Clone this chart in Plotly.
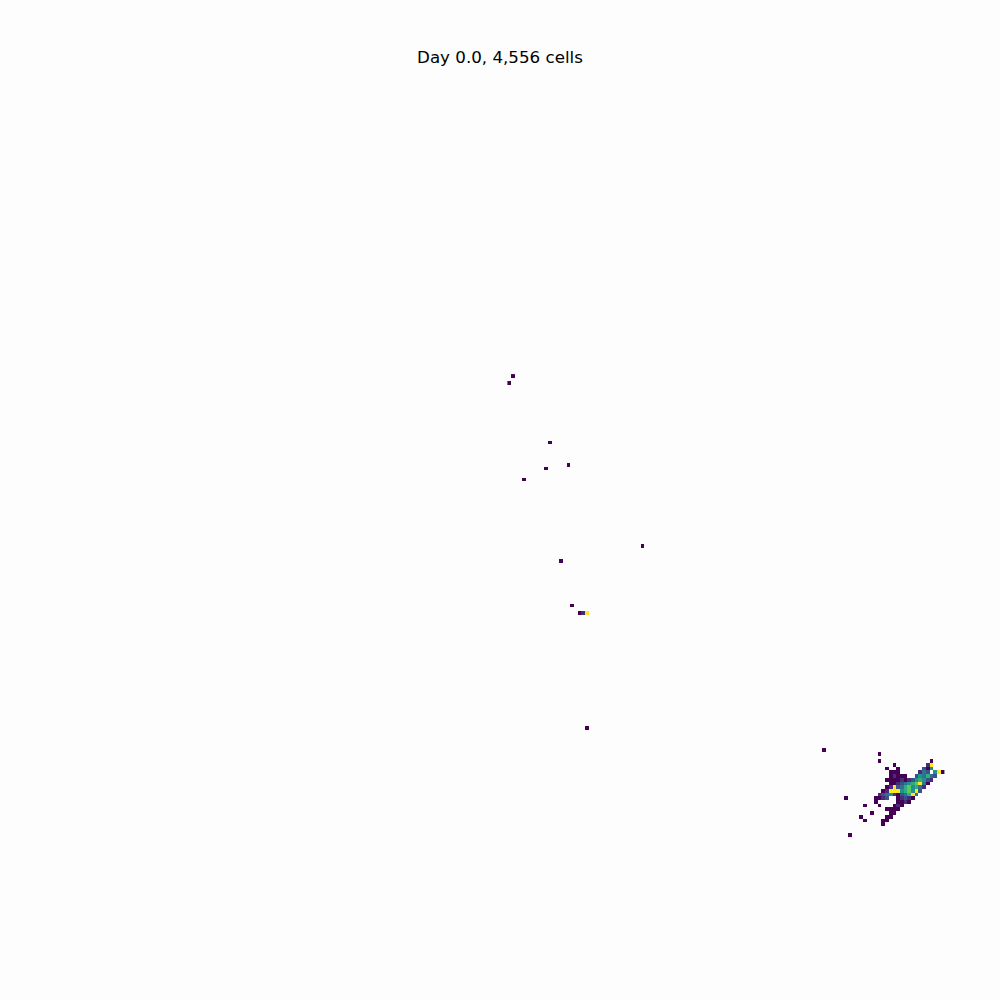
import plotly.graph_objects as go

# 2D histogram of cell positions (bin column, bin row, cell count per bin)
N_BINS = 270
cell_col = [138, 137, 148, 153, 147, 141, 173, 151, 154, 156, 157, 158, 158, 222,
            237, 237, 251, 241, 250, 251,
            239, 242, 249, 250, 251,
            240, 241, 242, 248, 249, 250, 252, 253, 254,
            240, 241, 242, 243, 244, 247, 248, 249, 250, 251, 252,
            239, 240, 241, 242, 243, 244, 245, 246, 247, 248, 249, 250, 251,
            240, 241, 242, 243, 244, 245, 246, 247, 248, 249, 250,
            239, 240, 241, 242, 243, 244, 245, 246, 247, 248, 249,
            238, 239, 240, 241, 242, 243, 244, 245, 246, 247, 248,
            237, 238, 239, 240, 241, 242, 243, 244, 245, 246, 247,
            236, 237, 238, 239, 242, 243, 244, 245, 246,
            236, 242, 243, 244, 245,
            233, 237, 241, 242, 243,
            239, 240, 241, 242,
            235, 240, 241,
            232, 239, 240,
            233, 238, 239,
            238,
            228, 229]
cell_row = [101, 103, 119, 125, 126, 129, 147, 151, 163, 165, 165, 165, 196, 202,
            203, 205, 205, 206, 206, 206,
            207, 207, 207, 207, 207,
            208, 208, 208, 208, 208, 208, 208, 208, 208,
            209, 209, 209, 209, 209, 209, 209, 209, 209, 209, 209,
            210, 210, 210, 210, 210, 210, 210, 210, 210, 210, 210, 210, 210,
            211, 211, 211, 211, 211, 211, 211, 211, 211, 211, 211,
            212, 212, 212, 212, 212, 212, 212, 212, 212, 212, 212,
            213, 213, 213, 213, 213, 213, 213, 213, 213, 213, 213,
            214, 214, 214, 214, 214, 214, 214, 214, 214, 214, 214,
            215, 215, 215, 215, 215, 215, 215, 215, 215,
            216, 216, 216, 216, 216,
            217, 217, 217, 217, 217,
            218, 218, 218, 218,
            219, 219, 219,
            220, 220, 220,
            221, 221, 221,
            222,
            215, 225]
cell_count = [1, 1, 1, 1, 1, 1, 1, 1, 1, 1, 2, 9, 1, 1,
              1, 1, 1, 1, 2, 9,
              1, 1, 3, 1, 5,
              1, 1, 1, 2, 4, 3, 5, 9, 1,
              1, 2, 1, 1, 1, 3, 5, 4, 6, 4, 3,
              1, 1, 1, 1, 2, 1, 2, 3, 5, 6, 5, 3, 2,
              1, 1, 2, 3, 4, 5, 6, 7, 9, 4, 1,
              1, 2, 9, 3, 4, 6, 7, 5, 6, 4, 2,
              1, 2, 9, 9, 9, 5, 6, 7, 5, 9, 3,
              2, 3, 4, 5, 2, 1, 3, 4, 6, 9, 4,
              1, 1, 2, 3, 1, 2, 3, 2, 1,
              1, 1, 1, 2, 1,
              1, 1, 1, 2, 1,
              1, 1, 1, 1,
              1, 1, 1,
              1, 1, 1,
              1, 1, 1,
              1,
              1, 1]

TITLE = "Day 0.0, 4,556 cells"

# build the binned grid from the sparse lists
c0, c1 = min(cell_col), max(cell_col)
r0, r1 = min(cell_row), max(cell_row)
z = [[None] * (c1 - c0 + 1) for _ in range(r1 - r0 + 1)]
for c, r, v in zip(cell_col, cell_row, cell_count):
    z[r - r0][c - c0] = v

fig = go.Figure(go.Heatmap(
    z=z, x0=c0, dx=1, y0=r0, dy=1,
    colorscale="Viridis", zmin=1, zmax=9,
    showscale=False, hoverinfo="skip",
))

fig.update_layout(
    width=1000, height=1000,
    margin=dict(l=0, r=0, t=0, b=0),
    paper_bgcolor="#fdfdfd", plot_bgcolor="#fdfdfd",
    title=dict(text=TITLE, x=0.5, xanchor="center", y=0.943, yanchor="middle",
               font=dict(family="DejaVu Sans", size=16.7, color="#000000")),
    xaxis=dict(range=[-0.5, N_BINS - 0.5], visible=False, fixedrange=True),
    yaxis=dict(range=[N_BINS - 0.5, -0.5], visible=False, fixedrange=True),
    showlegend=False,
)

fig.write_html("out.html")
